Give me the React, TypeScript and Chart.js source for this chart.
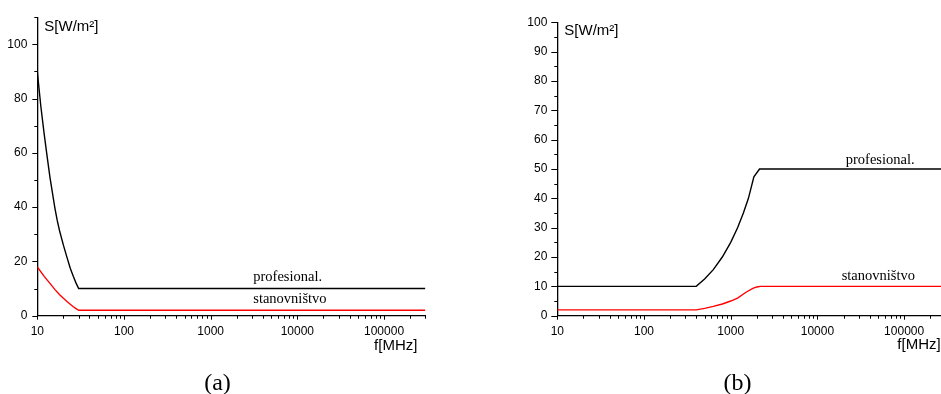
import { useEffect, useRef } from "react";
import { Chart, registerables } from "chart.js";

Chart.register(...registerables);

// ---------- data (a) ----------
const freqProfA = [10, 11, 12, 13, 14, 15, 16, 17, 18, 20, 22, 24, 26, 28, 30, 300000];
const valProfA = [90, 77, 67, 58.5, 51, 45, 39.5, 35, 31.5, 26, 21.5, 17.5, 14.5, 12, 10, 10];
const freqPopA = [10, 12, 14, 16, 18, 20, 22, 24, 26, 28, 30, 300000];
const valPopA = [18, 14.5, 11.9, 9.6, 7.8, 6.4, 5.2, 4.2, 3.3, 2.6, 2, 2];

// ---------- data (b) ----------
const freqProfB = [10, 400, 500, 630, 800, 1000, 1200, 1400, 1600, 1850, 2150, 300000];
const valProfB = [10, 10, 12.5, 15.7, 20, 25, 30, 35, 40, 47.3, 50, 50];
const freqPopB = [10, 400, 500, 630, 800, 1000, 1200, 1500, 1800, 2000, 2200, 300000];
const valPopB = [2, 2, 2.5, 3.2, 4, 5, 6, 8, 9.3, 9.8, 10, 10];

// ---------- axis ticks ----------
const xTickValues = [
  10, 20, 30, 40, 50, 60, 70, 80, 90,
  100, 200, 300, 400, 500, 600, 700, 800, 900,
  1000, 2000, 3000, 4000, 5000, 6000, 7000, 8000, 9000,
  10000, 20000, 30000, 40000, 50000, 60000, 70000, 80000, 90000,
  100000, 200000, 300000,
];
const xMajorLabels = [10, 100, 1000, 10000, 100000];
const yLabelsA = [0, 20, 40, 60, 80, 100];
const yLabelsB = [0, 10, 20, 30, 40, 50, 60, 70, 80, 90, 100];

const labelProf = "profesional.";
const labelPop = "stanovništvo";
const yTitle = "S[W/m²]";
const xTitle = "f[MHz]";

const SANS = "'Liberation Sans', Arial, sans-serif";
const SERIF = "'Liberation Serif', 'Times New Roman', serif";

type Spec = {
  yMax: number;
  yStep: number;
  yLabels: number[];
  prof: { f: number[]; v: number[] };
  pop: { f: number[]; v: number[] };
  annProf: [number, number];
  annPop: [number, number];
  yAxisWidth: number;
  padTop: number;
  padRight: number;
  xAxisHeight: number;
  yMajorLen: number;
  yTitleDy: number;
  xTitleDx: number;
  xTitleDy: number;
  caption: string;
  captionX: number;
};

const decor = {
  id: "decor",
  afterDraw(chart: any, _args: any, opts: any) {
    const spec: Spec = opts.spec;
    const ctx = chart.ctx as CanvasRenderingContext2D;
    const xs = chart.scales.x;
    const ys = chart.scales.y;
    const ca = chart.chartArea;
    ctx.save();
    ctx.strokeStyle = "#000";
    ctx.lineWidth = 1;
    // x ticks (downwards)
    for (const t of xs.ticks) {
      const px = Math.round(xs.getPixelForValue(t.value)) + 0.5;
      const major = xMajorLabels.includes(t.value);
      const len = major ? 4 : 3;
      ctx.beginPath();
      ctx.moveTo(px, ca.bottom);
      ctx.lineTo(px, ca.bottom + len);
      ctx.stroke();
    }
    // y ticks (to the left)
    for (const t of ys.ticks) {
      const py = Math.round(ys.getPixelForValue(t.value)) + 0.5;
      const major = spec.yLabels.includes(t.value);
      const len = major ? spec.yMajorLen : 3;
      ctx.beginPath();
      ctx.moveTo(ca.left, py);
      ctx.lineTo(ca.left - len, py);
      ctx.stroke();
    }
    // axis titles
    ctx.fillStyle = "#000";
    ctx.font = `15px ${SANS}`;
    ctx.textBaseline = "middle";
    ctx.textAlign = "left";
    ctx.fillText(yTitle, ca.left + 7, ca.top + spec.yTitleDy);
    ctx.textAlign = "right";
    ctx.fillText(xTitle, ca.right + spec.xTitleDx, ca.bottom + spec.xTitleDy);
    // curve labels
    ctx.font = `14.5px ${SERIF}`;
    ctx.textAlign = "left";
    ctx.fillText(labelProf, xs.getPixelForValue(spec.annProf[0]), ys.getPixelForValue(spec.annProf[1]));
    ctx.fillText(labelPop, xs.getPixelForValue(spec.annPop[0]), ys.getPixelForValue(spec.annPop[1]));
    // caption
    ctx.font = `24px ${SERIF}`;
    ctx.textAlign = "center";
    ctx.fillText(spec.caption, spec.captionX, 384);
    ctx.restore();
  },
};

function build(canvas: HTMLCanvasElement, spec: Spec) {
  const toPts = (f: number[], v: number[]) => f.map((x, i) => ({ x, y: v[i] }));
  return new Chart(canvas, {
    type: "line",
    data: {
      datasets: [
        {
          data: toPts(spec.prof.f, spec.prof.v),
          borderColor: "#000",
          borderWidth: 1.4,
          pointRadius: 0,
          tension: 0,
        },
        {
          data: toPts(spec.pop.f, spec.pop.v),
          borderColor: "#ff0000",
          borderWidth: 1.4,
          pointRadius: 0,
          tension: 0,
        },
      ],
    },
    options: {
      responsive: false,
      animation: false,
      devicePixelRatio: 1,
      layout: { padding: { left: 0, top: spec.padTop, right: spec.padRight, bottom: 0 } },
      plugins: {
        legend: { display: false },
        tooltip: { enabled: false },
        decor: { spec },
      } as any,
      scales: {
        x: {
          type: "logarithmic",
          min: 10,
          max: 300000,
          grid: { display: false, drawTicks: false, tickLength: 0 },
          border: { display: true, color: "#000", width: 1.3 },
          afterBuildTicks: (s: any) => {
            s.ticks = xTickValues.map((value) => ({ value }));
          },
          afterFit: (s: any) => {
            s.height = spec.xAxisHeight;
          },
          ticks: {
            autoSkip: false,
            maxRotation: 0,
            minRotation: 0,
            padding: 9,
            color: "#000",
            font: { family: SANS, size: 12 },
            callback: (v: any) => (xMajorLabels.includes(Number(v)) ? String(v) : ""),
          },
        },
        y: {
          type: "linear",
          min: 0,
          max: spec.yMax,
          grid: { display: false, drawTicks: false, tickLength: 0 },
          border: { display: true, color: "#000", width: 1.3 },
          afterFit: (s: any) => {
            s.width = spec.yAxisWidth;
          },
          ticks: {
            stepSize: spec.yStep,
            autoSkip: false,
            padding: 10,
            color: "#000",
            font: { family: SANS, size: 12 },
            callback: (v: any) => (spec.yLabels.includes(Number(v)) ? String(v) : ""),
          },
        },
      },
    },
    plugins: [decor],
  } as any);
}

const specA: Spec = {
  yMax: 110,
  yStep: 10,
  yLabels: yLabelsA,
  prof: { f: freqProfA, v: valProfA },
  pop: { f: freqPopA, v: valPopA },
  annProf: [3100, 14.1],
  annPop: [3100, 6.0],
  yAxisWidth: 37.3,
  padTop: 15.7,
  padRight: 44.6,
  xAxisHeight: 78.3,
  yMajorLen: 5,
  yTitleDy: 9.3,
  xTitleDx: -8,
  xTitleDy: 30.5,
  caption: "(a)",
  captionX: 217.5,
};

const specB: Spec = {
  yMax: 100,
  yStep: 5,
  yLabels: yLabelsB,
  prof: { f: freqProfB, v: valProfB },
  pop: { f: freqPopB, v: valPopB },
  annProf: [21200, 53.1],
  annPop: [19050, 13.3],
  yAxisWidth: 87.3,
  padTop: 22.3,
  padRight: 54.5,
  xAxisHeight: 78.3,
  yMajorLen: 6,
  yTitleDy: 8.7,
  xTitleDx: -4.8,
  xTitleDy: 29.5,
  caption: "(b)",
  captionX: 267.5,
};

export default function App() {
  const refA = useRef<HTMLCanvasElement>(null);
  const refB = useRef<HTMLCanvasElement>(null);
  useEffect(() => {
    const a = build(refA.current!, specA);
    const b = build(refB.current!, specB);
    return () => {
      a.destroy();
      b.destroy();
    };
  }, []);
  return (
    <div
      style={{
        position: "fixed",
        left: 0,
        top: 0,
        width: 941,
        height: 394,
        overflow: "hidden",
        background: "#fff",
      }}
    >
      <canvas
        ref={refA}
        width={470}
        height={394}
        style={{ position: "absolute", left: 0, top: 0, width: 470, height: 394 }}
      />
      <canvas
        ref={refB}
        width={530}
        height={394}
        style={{ position: "absolute", left: 470, top: 0, width: 530, height: 394 }}
      />
    </div>
  );
}
